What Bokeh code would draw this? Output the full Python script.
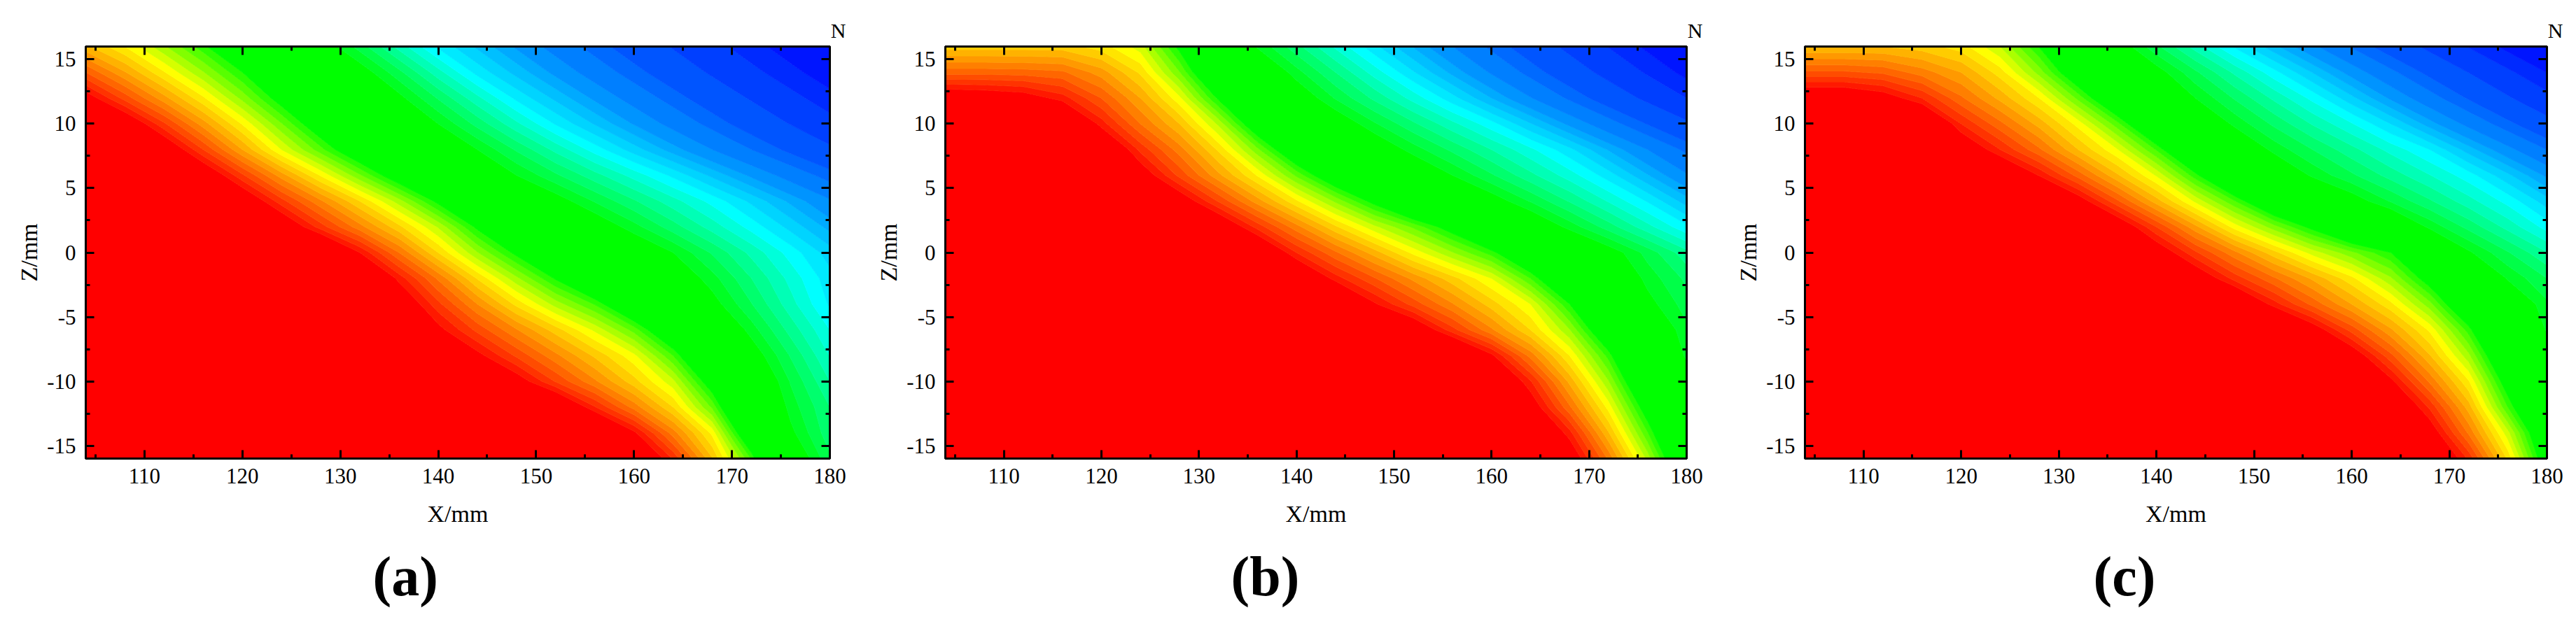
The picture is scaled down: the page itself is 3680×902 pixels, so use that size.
from bokeh.embed import file_html
from bokeh.layouts import row
from bokeh.models import FixedTicker, LinearAxis, Range1d, Title
from bokeh.plotting import figure
from bokeh.resources import INLINE
import numpy as np

# Grid columns (X/mm) and rows (Z/mm) of the sampled fields
x_cols = [104, 108, 112, 116, 120, 124, 128, 132, 136, 140, 144, 148, 152, 156, 160, 164, 168, 172, 176, 180]
z_rows = [16, 14, 12, 10, 8, 6, 4, 2, 0, -2, -4, -6, -8, -10, -12, -14, -16]

field_a = [
    [6.7, 9, 11.8, 14.6, 18.6, 22.7, 26.9, 31.9, 37.8, 43.4, 47.4, 51.4, 55.4, 59.4, 63.4, 67.4, 71.4, 75.4, 79.4, 83.4],
    [3, 5.9, 8.9, 11.9, 15, 19.1, 23.2, 27.3, 32.4, 38.2, 43.7, 47.7, 51.7, 55.7, 59.7, 63.7, 67.7, 71.7, 75.7, 79.7],
    [-1, 2.4, 5.6, 8.8, 12.3, 16, 20.1, 24.1, 28.2, 33.2, 38.4, 43.5, 47.5, 51.5, 55.5, 59.5, 63.5, 67.5, 71.5, 75.5],
    [-6, -2, 1.8, 5.5, 9.1, 12.9, 16.8, 20.9, 24.9, 29, 33.7, 38.5, 43.2, 47.2, 51.2, 55.2, 59.2, 63.2, 67.2, 71.2],
    [-10, -6, -2, 2, 6, 10, 13.6, 17.4, 21.3, 25.1, 29, 33.3, 37.6, 41.9, 46, 50, 54, 58, 62, 66],
    [-14, -10, -6, -2, 1.8, 5.5, 9.1, 12.8, 16.7, 20.8, 24.9, 29, 32.6, 36.2, 39.8, 43.5, 47.5, 51.5, 55.5, 59.5],
    [-18, -14, -10, -6, -2, 1.6, 4.8, 8, 11.5, 15.5, 19.5, 23.5, 27.5, 31.2, 34.7, 38.2, 41.7, 45.5, 49.5, 53.5],
    [-22, -18, -14, -10, -6, -2, 1.5, 4.6, 7.7, 11.1, 15.4, 19.1, 22.8, 26.5, 30.2, 34.1, 37.9, 41.8, 45.7, 49.7],
    [-28, -24, -20, -16, -12, -8, -4, 0, 4, 8, 11.9, 15.5, 18.9, 22.3, 25.6, 29, 33.3, 37.6, 41.9, 46],
    [-32, -28, -24, -20, -16, -12, -8, -4, 0.4, 4.2, 8.1, 11.7, 15.2, 18.9, 22.6, 26.2, 30.2, 35, 39.7, 44.2],
    [-34, -30, -26, -22, -18, -14, -10, -6, -2, 1.7, 5, 8.3, 11.4, 14.1, 18.2, 23, 27.8, 32.9, 38.2, 43.3],
    [-36, -32, -28, -24, -20, -16, -12, -8, -4, -0.5, 2.3, 4.9, 7.5, 10.2, 13.4, 18, 24, 30, 35.8, 41],
    [-40, -36, -32, -28, -24, -20, -16, -12, -8, -4.5, -0.5, 2.2, 4.7, 7.2, 9.7, 14, 20.1, 27, 33.2, 39.1],
    [-45, -41, -37, -33, -29, -25, -21, -17, -13, -9, -5, -1, 2.1, 4.8, 7.6, 10.7, 16.5, 24.2, 31.2, 37],
    [-51, -47, -43, -39, -35, -31, -27, -23, -19, -15, -11, -7, -3, 0.9, 4.4, 8, 13.2, 21.6, 29.9, 35],
    [-56, -52, -48, -44, -40, -36, -32, -28, -24, -20, -16, -12, -8, -4.3, -0.3, 4.5, 9.3, 18.3, 28.3, 34.3],
    [-59, -55, -51, -47, -43, -39, -35, -31, -27, -23, -19, -15, -11, -7, -3.2, 1.1, 6.9, 14.1, 25.5, 32.6],
]

field_b = [
    [7.5, 7.5, 7.5, 7.5, 8.5, 10.5, 15.5, 23.1, 29.3, 34.3, 39.4, 44.4, 49.2, 54, 58.8, 63.6, 68.4, 73.2, 78, 82.8],
    [3.4, 3.4, 3.5, 3.8, 5.5, 8.2, 12.9, 19, 24.7, 30.2, 35, 39.9, 44.8, 49.6, 54.4, 59.2, 64, 68.8, 73.6, 78.4],
    [-1.8, -1.5, -1, 0.5, 3, 6, 9.7, 15.3, 21, 26.3, 31.2, 35.5, 39.8, 44.2, 49, 53.8, 58.6, 63.4, 68.2, 73],
    [-6, -6, -6, -4, 0.5, 4, 7, 11.2, 17.1, 21.8, 26.4, 30.7, 34.6, 38.4, 42.2, 46.8, 51.6, 56.4, 61.2, 66],
    [-11, -11, -11, -9, -3, 1.3, 4.5, 8.2, 12.7, 17.7, 21.9, 26.1, 30, 33.5, 37, 40.5, 44.4, 49.2, 54, 58.8],
    [-20, -17, -15, -13, -7, -1.3, 2.3, 5.7, 9.1, 13.2, 17.3, 21.2, 25.2, 29, 32.7, 36.4, 40, 44, 48.8, 53.6],
    [-25, -21, -17, -13, -9, -5, -1.4, 2.1, 5.5, 8.8, 12.2, 15.7, 19.5, 23.4, 27.3, 31.2, 35.2, 39.2, 43.2, 48],
    [-30, -26, -22, -18, -14, -10, -6, -2.2, 1.4, 4.6, 7.8, 10.7, 13.2, 16.1, 20.7, 25.3, 29.8, 34, 38.3, 42.5],
    [-35, -31, -27, -23, -19, -15, -11, -7, -3, 1, 3.8, 6.5, 9.3, 11.9, 14.5, 18.5, 23, 27.3, 31.8, 36.3],
    [-39, -35, -31, -27, -23, -19, -15, -11, -7, -3, 0.5, 2.9, 5.3, 7.6, 10, 14, 19.1, 24.6, 29.8, 33.5],
    [-44, -40, -36, -32, -28, -24, -20, -16, -12, -8, -4.2, -0.2, 2.4, 4.9, 7.5, 10, 15, 21.5, 28, 32],
    [-50, -46, -42, -38, -34, -30, -26, -22, -18, -14, -10, -6, -2, 1.6, 4.8, 8, 11.9, 17.9, 25, 30.5],
    [-56, -52, -48, -44, -40, -36, -32, -28, -24, -20, -16, -12, -8, -4.3, -0.3, 4.4, 9, 14.4, 22, 29.5],
    [-59, -55, -51, -47, -43, -39, -35, -31, -27, -23, -19, -15, -11, -7, -3.3, 0.9, 6.3, 11.9, 19.1, 27],
    [-61, -57, -53, -49, -45, -41, -37, -33, -29, -25, -21, -17, -13, -9, -5.3, -1.3, 3.8, 9.4, 16.4, 24],
    [-64, -60, -56, -52, -48, -44, -40, -36, -32, -28, -24, -20, -16, -12, -7.6, -3.6, 0.6, 6.9, 13.9, 21.5],
    [-66, -62, -58, -54, -50, -46, -42, -38, -34, -30, -26, -22, -18, -14, -10, -6, -1.8, 4.2, 11.3, 19.5],
]

field_c = [
    [7, 7, 7, 7.5, 8.5, 11, 15.1, 21.1, 27, 32.5, 37.9, 43.3, 48.3, 53.3, 58.3, 63.3, 68.3, 73.3, 78.3, 83.3],
    [2.8, 2.8, 3.2, 4.5, 6, 8.5, 12.4, 17.3, 22.5, 27.7, 32.6, 37.4, 42.2, 47.1, 52.1, 57.1, 62.1, 67.1, 72.1, 77.1],
    [-2, -2, -1, 1, 3.8, 6.3, 9, 13.3, 18.3, 23.7, 29, 33.2, 37.4, 41.6, 46.4, 51.4, 56.4, 61.4, 66.4, 71.4],
    [-7, -6.5, -6, -3.5, 1, 3.7, 6.4, 9.4, 13.6, 18.9, 24.4, 29.6, 33.4, 37.2, 40.8, 45, 50, 55, 60, 65],
    [-12, -12, -10, -7, -2, 1, 3.8, 7, 9.9, 14.1, 19.3, 24.7, 29.7, 33, 36.3, 39.7, 43, 48, 53, 58],
    [-20, -18, -15, -12, -8, -3, 0.1, 3.4, 6.8, 10.1, 14.6, 19.6, 24.7, 29.5, 32.6, 35.8, 38.9, 42.1, 46.5, 51.5],
    [-29, -25, -21, -17, -13, -9, -5, -1, 2.8, 6.5, 10.2, 13.9, 18.2, 22.7, 27.3, 31.2, 34.7, 38.2, 41.7, 46.1],
    [-34, -30, -26, -22, -18, -14, -10, -6, -1.8, 2, 5.7, 9.4, 12.5, 15.6, 19.2, 23.9, 29.6, 33.7, 37.7, 41.8],
    [-38, -34, -30, -26, -22, -18, -14, -10, -6, -1.5, 1.8, 4.7, 7.6, 10.4, 12.7, 15, 21.7, 28.6, 32.8, 36.9],
    [-42, -38, -34, -30, -26, -22, -18, -14, -10, -6, -1.7, 1.4, 3.8, 6.2, 8.7, 11.8, 16.2, 22.8, 29.3, 33],
    [-47, -43, -39, -35, -31, -27, -23, -19, -15, -11, -7, -3.2, 0.5, 3.3, 6, 8.7, 12.6, 18.3, 25, 30.6],
    [-53, -49, -45, -41, -37, -33, -29, -25, -21, -17, -13, -9, -5, -1.1, 2.4, 5.8, 9.2, 14.5, 21.9, 29.3],
    [-57, -53, -49, -45, -41, -37, -33, -29, -25, -21, -17, -13, -9, -5, -1.4, 2.7, 6.9, 11.7, 18.9, 26.2],
    [-60, -56, -52, -48, -44, -40, -36, -32, -28, -24, -20, -16, -12, -8, -4.4, -0.4, 4.2, 8.9, 16.4, 23.6],
    [-63, -59, -55, -51, -47, -43, -39, -35, -31, -27, -23, -19, -15, -11, -7, -3.1, 1.2, 6.5, 14, 21],
    [-65, -61, -57, -53, -49, -45, -41, -37, -33, -29, -25, -21, -17, -13, -9, -5.3, -1.3, 4.2, 10.6, 18.6],
    [-67, -63, -59, -55, -51, -47, -43, -39, -35, -31, -27, -23, -19, -15, -11, -7, -3.3, 1.2, 8.2, 17],
]

x_ticks = [110, 120, 130, 140, 150, 160, 170, 180]
x_tick_labels = ["110", "120", "130", "140", "150", "160", "170", "180"]
x_minor = [105, 115, 125, 135, 145, 155, 165, 175]
z_ticks = [-15, -10, -5, 0, 5, 10, 15]
z_tick_labels = ["-15", "-10", "-5", "0", "5", "10", "15"]
z_minor = [-12.5, -7.5, -2.5, 2.5, 7.5, 12.5]

levels = [-100, 0, 1, 2, 3, 4, 5, 6, 7, 8, 9, 10, 11, 12, 13, 14, 15, 29,
          31, 33, 35, 37, 39, 41, 43, 45, 47, 49, 51, 54, 58, 61, 67, 73, 77, 83, 100]


def hex_color(r, g, b):
    return "#%02x%02x%02x" % (int(r), int(g), int(b))


band_colors = [hex_color(255, 0, 0)]
band_colors += [hex_color(255, 25.5 * k, 0) for k in range(1, 11)]      # red to yellow
band_colors += [hex_color(255 - 42 * k, 255, 0) for k in range(1, 6)]   # yellow to green
band_colors += [hex_color(0, 255, 0)]                                   # green plateau
band_colors += [hex_color(0, 255, 255 * k / 7) for k in range(1, 8)]    # green to cyan
band_colors += [hex_color(0, 255 * (1 - k / 12), 255) for k in range(1, 13)]  # cyan to blue
line_colors = band_colors + [band_colors[-1]]

SERIF = "Liberation Serif"


def panel(field, letter, width, border_left, border_right, letter_offset):
    p = figure(width=width, height=894, output_backend="svg", toolbar_location=None,
               x_range=Range1d(104, 180), y_range=Range1d(-16, 16),
               min_border_left=border_left, min_border_right=border_right,
               min_border_top=66, min_border_bottom=239,
               x_axis_label="X/mm", y_axis_label="Z/mm",
               background_fill_color="white", border_fill_color="white")
    p.grid.visible = False
    values = np.array(field, dtype=float)[::-1]
    p.contour(x_cols, z_rows[::-1], values, levels, fill_color=band_colors,
              line_color=line_colors, line_width=1)

    p.add_layout(LinearAxis(), "right")
    p.add_layout(LinearAxis(), "above")
    x_ticker = FixedTicker(ticks=x_ticks, minor_ticks=x_minor)
    z_ticker = FixedTicker(ticks=z_ticks, minor_ticks=z_minor)
    x_labels = dict(zip(x_ticks, x_tick_labels))
    z_labels = dict(zip(z_ticks, z_tick_labels))
    for ax in p.axis:
        ax.axis_line_color = "black"
        ax.axis_line_width = 3
        ax.major_tick_line_color = "black"
        ax.major_tick_line_width = 3
        ax.minor_tick_line_color = "black"
        ax.minor_tick_line_width = 3
        ax.major_tick_in = 12
        ax.major_tick_out = 0
        ax.minor_tick_in = 6
        ax.minor_tick_out = 0
        ax.major_label_text_font = SERIF
        ax.major_label_text_font_size = "31px"
        ax.major_label_text_color = "black"
        ax.axis_label_text_font = SERIF
        ax.axis_label_text_font_size = "34px"
        ax.axis_label_text_font_style = "normal"
        ax.axis_label_text_color = "black"
    for ax in p.xaxis:
        ax.ticker = x_ticker
        ax.major_label_overrides = dict(x_labels)
    for ax in p.yaxis:
        ax.ticker = z_ticker
        ax.major_label_overrides = dict(z_labels)
    p.above[0].major_label_overrides = {t: "" for t in x_ticks}
    p.right[0].major_label_overrides = {t: "" for t in z_ticks}
    p.above[0].major_label_text_font_size = "1px"
    p.right[0].major_label_text_font_size = "1px"
    p.above[0].major_label_standoff = 0
    p.right[0].major_label_standoff = 0
    p.below[0].major_label_standoff = 14
    p.left[0].major_label_standoff = 14
    p.below[0].axis_label_standoff = 22
    p.left[0].axis_label_standoff = 4

    p.outline_line_color = "black"
    p.outline_line_width = 3

    p.add_layout(Title(text="N", text_font=SERIF, text_font_size="30px", text_font_style="normal",
                       text_color="black", align="right", offset=-23, standoff=14), "above")
    p.add_layout(Title(text=letter, text_font=SERIF, text_font_size="80px", text_font_style="bold",
                       text_color="black", align="left", offset=letter_offset, standoff=45), "below")
    return p


p_a = panel(field_a, "(a)", 1215, 122, 30, 410)
p_b = panel(field_b, "(b)", 1207, 114, 34, 408)
p_c = panel(field_c, "(c)", 1204, 114, 30, 412)

layout = row(p_a, p_b, p_c, spacing=21)
open("out.html", "w").write(file_html(layout, INLINE))
